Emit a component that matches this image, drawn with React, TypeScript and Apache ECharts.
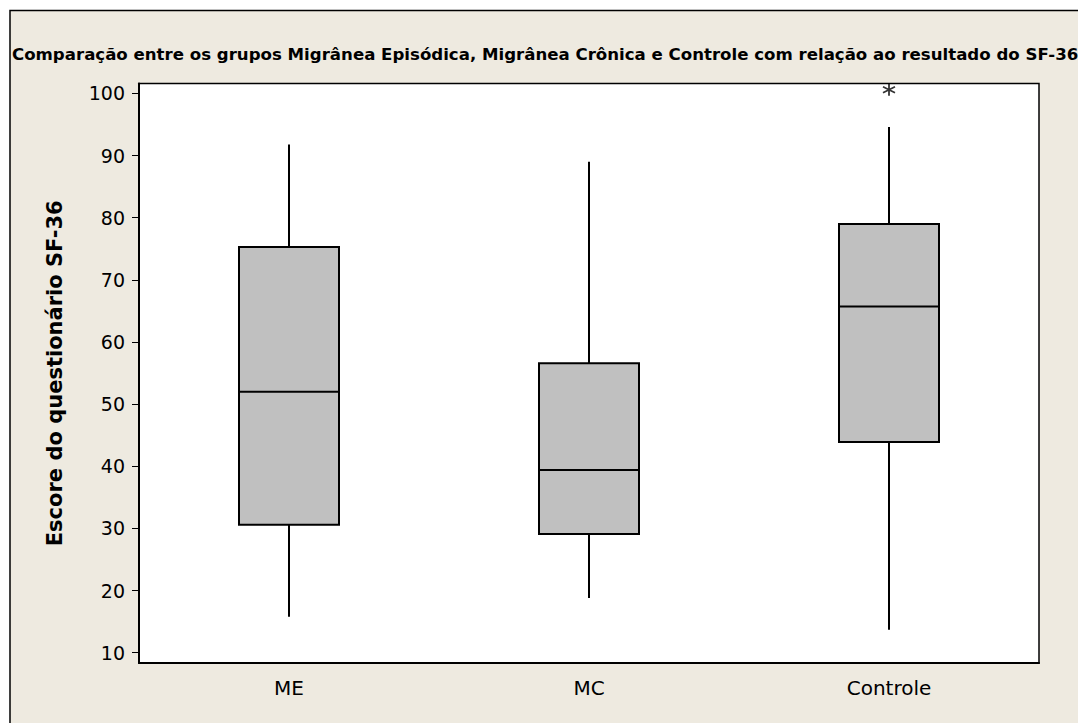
import React, { useEffect, useRef } from "react";
import * as echarts from "echarts";

const categories = ["ME", "MC", "Controle"];
// [min whisker, Q1, median, Q3, max whisker]
const boxStats = [
  [15.8, 30.6, 52.0, 75.3, 91.8],
  [18.8, 29.1, 39.4, 56.6, 89.0],
  [13.7, 43.9, 65.7, 79.0, 94.6],
];
const outliers = [["Controle", 100.6]];
const yTicks = [10, 20, 30, 40, 50, 60, 70, 80, 90, 100];
const titleText =
  "Comparação entre os grupos Migrânea Episódica, Migrânea Crônica e Controle com relação ao resultado do SF-36";
const yAxisName = "Escore do questionário SF-36";

export default function App() {
  const ref = useRef<HTMLDivElement>(null);
  useEffect(() => {
    if (!ref.current) return;
    const chart = echarts.init(ref.current, null, { renderer: "svg" });
    const customData = boxStats.map((s, i) => [i, ...s]);
    chart.setOption({
      animation: false,
      backgroundColor: "#ffffff",
      graphic: [
        {
          type: "rect",
          z: -100,
          silent: true,
          shape: { x: 10, y: 10.5, width: 1200, height: 900 },
          style: { fill: "#EEEAE0", stroke: "#000", lineWidth: 1.5 },
        },
      ],
      title: {
        text: titleText,
        left: 12,
        top: 46,
        padding: 0,
        textStyle: {
          fontFamily: "DejaVu Sans",
          fontWeight: "bold",
          fontSize: 16.6,
          color: "#000",
        },
      },
      grid: {
        left: 139,
        right: 39,
        top: 83.5,
        bottom: 60,
        show: true,
        backgroundColor: "#ffffff",
        borderColor: "#000",
        borderWidth: 1.5,
      },
      xAxis: {
        type: "category",
        data: categories,
        boundaryGap: true,
        axisLine: { lineStyle: { color: "#000", width: 2 } },
        axisTick: { alignWithLabel: true, length: 5, lineStyle: { color: "#000", width: 1 } },
        axisLabel: {
          margin: 15,
          fontFamily: "DejaVu Sans",
          fontSize: 20,
          color: "#000",
        },
        splitLine: { show: false },
      },
      yAxis: {
        type: "value",
        min: 8.35,
        max: 101.6,
        name: yAxisName,
        nameLocation: "middle",
        nameRotate: 90,
        nameGap: 74,
        nameTextStyle: {
          fontFamily: "DejaVu Sans",
          fontWeight: "bold",
          fontSize: 21,
          color: "#000",
        },
        axisLine: { show: true, lineStyle: { color: "#000", width: 2 } },
        axisTick: {
          show: true,
          length: 7,
          customValues: yTicks,
          lineStyle: { color: "#000", width: 1 },
        },
        axisLabel: {
          customValues: yTicks,
          margin: 14,
          fontFamily: "DejaVu Sans",
          fontSize: 19,
          color: "#000",
        },
        splitLine: { show: false },
      },
      series: [
        {
          type: "custom",
          data: customData,
          encode: { x: 0, y: [1, 2, 3, 4, 5] },
          renderItem: (params: any, api: any) => {
            const i = api.value(0);
            const lo = api.coord([i, api.value(1)]);
            const q1 = api.coord([i, api.value(2)]);
            const med = api.coord([i, api.value(3)]);
            const q3 = api.coord([i, api.value(4)]);
            const hi = api.coord([i, api.value(5)]);
            const band = api.size([1, 0])[0];
            const w = band / 3;
            const cx = q1[0];
            const lineStyle = { stroke: "#000", lineWidth: 2 };
            return {
              type: "group",
              children: [
                { type: "line", shape: { x1: cx, y1: lo[1], x2: cx, y2: q1[1] }, style: lineStyle },
                { type: "line", shape: { x1: cx, y1: q3[1], x2: cx, y2: hi[1] }, style: lineStyle },
                {
                  type: "rect",
                  shape: { x: cx - w / 2, y: q3[1], width: w, height: q1[1] - q3[1] },
                  style: { fill: "#C0C0C0", stroke: "#000", lineWidth: 2 },
                },
                { type: "line", shape: { x1: cx - w / 2, y1: med[1], x2: cx + w / 2, y2: med[1] }, style: lineStyle },
              ],
            };
          },
        },
        {
          type: "scatter",
          data: outliers,
          symbol: "path://M0,-6L0,6M-5.2,-3L5.2,3M-5.2,3L5.2,-3",
          symbolSize: 12,
          itemStyle: { color: "none", borderColor: "#000", borderWidth: 1.8 },
        },
      ],
    });
    return () => chart.dispose();
  }, []);
  return (
    <div
      ref={ref}
      style={{ position: "fixed", left: 0, top: 0, width: 1078, height: 723 }}
    />
  );
}
